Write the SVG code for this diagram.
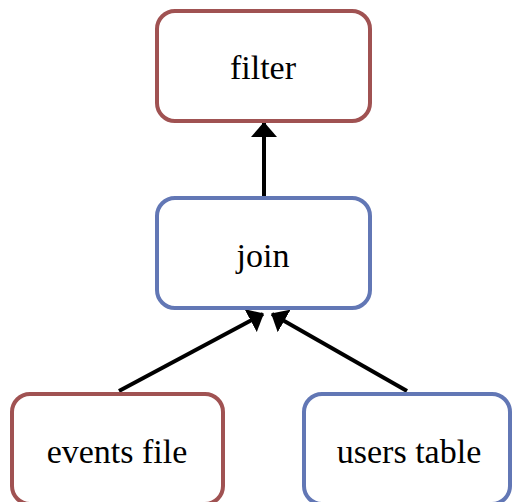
<svg xmlns="http://www.w3.org/2000/svg" width="512" height="502" viewBox="0 0 512 502">
<defs>
<style>
.box{fill:#fff;stroke-width:4}
.red{stroke:#a05252}
.blue{stroke:#6277b5}
.lbl{font-family:'Liberation Serif','Times New Roman','DejaVu Serif',serif;font-size:34px;fill:#000;text-anchor:middle}
.edge{stroke:#000;stroke-width:4;fill:none}
</style>
<marker id="ah" viewBox="0 0 15 26" refX="14" refY="13" markerWidth="3.75" markerHeight="6.5" markerUnits="strokeWidth" orient="auto">
<path d="M0,0 L15,13 L0,26 z" fill="#000"/>
</marker>
</defs>
<rect width="512" height="502" fill="#fff"/>
<g id="edges">
<line class="edge" x1="264" y1="196" x2="264" y2="123" marker-end="url(#ah)"/>
<line class="edge" x1="119" y1="391" x2="263" y2="314" marker-end="url(#ah)"/>
<line class="edge" x1="407" y1="391" x2="272" y2="314" marker-end="url(#ah)"/>
</g>
<g id="filter">
<rect class="box red" x="157" y="11" width="213" height="110" rx="18"/>
<text class="lbl" x="263" y="79">filter</text>
</g>
<g id="join">
<rect class="box blue" x="157" y="198" width="213" height="110" rx="18"/>
<text class="lbl" x="263" y="267">join</text>
</g>
<g id="events">
<rect class="box red" x="12" y="394" width="211" height="110" rx="18"/>
<text class="lbl" x="117" y="463">events file</text>
</g>
<g id="users">
<rect class="box blue" x="304" y="394" width="206" height="110" rx="18"/>
<text class="lbl" x="409" y="463">users table</text>
</g>
</svg>
